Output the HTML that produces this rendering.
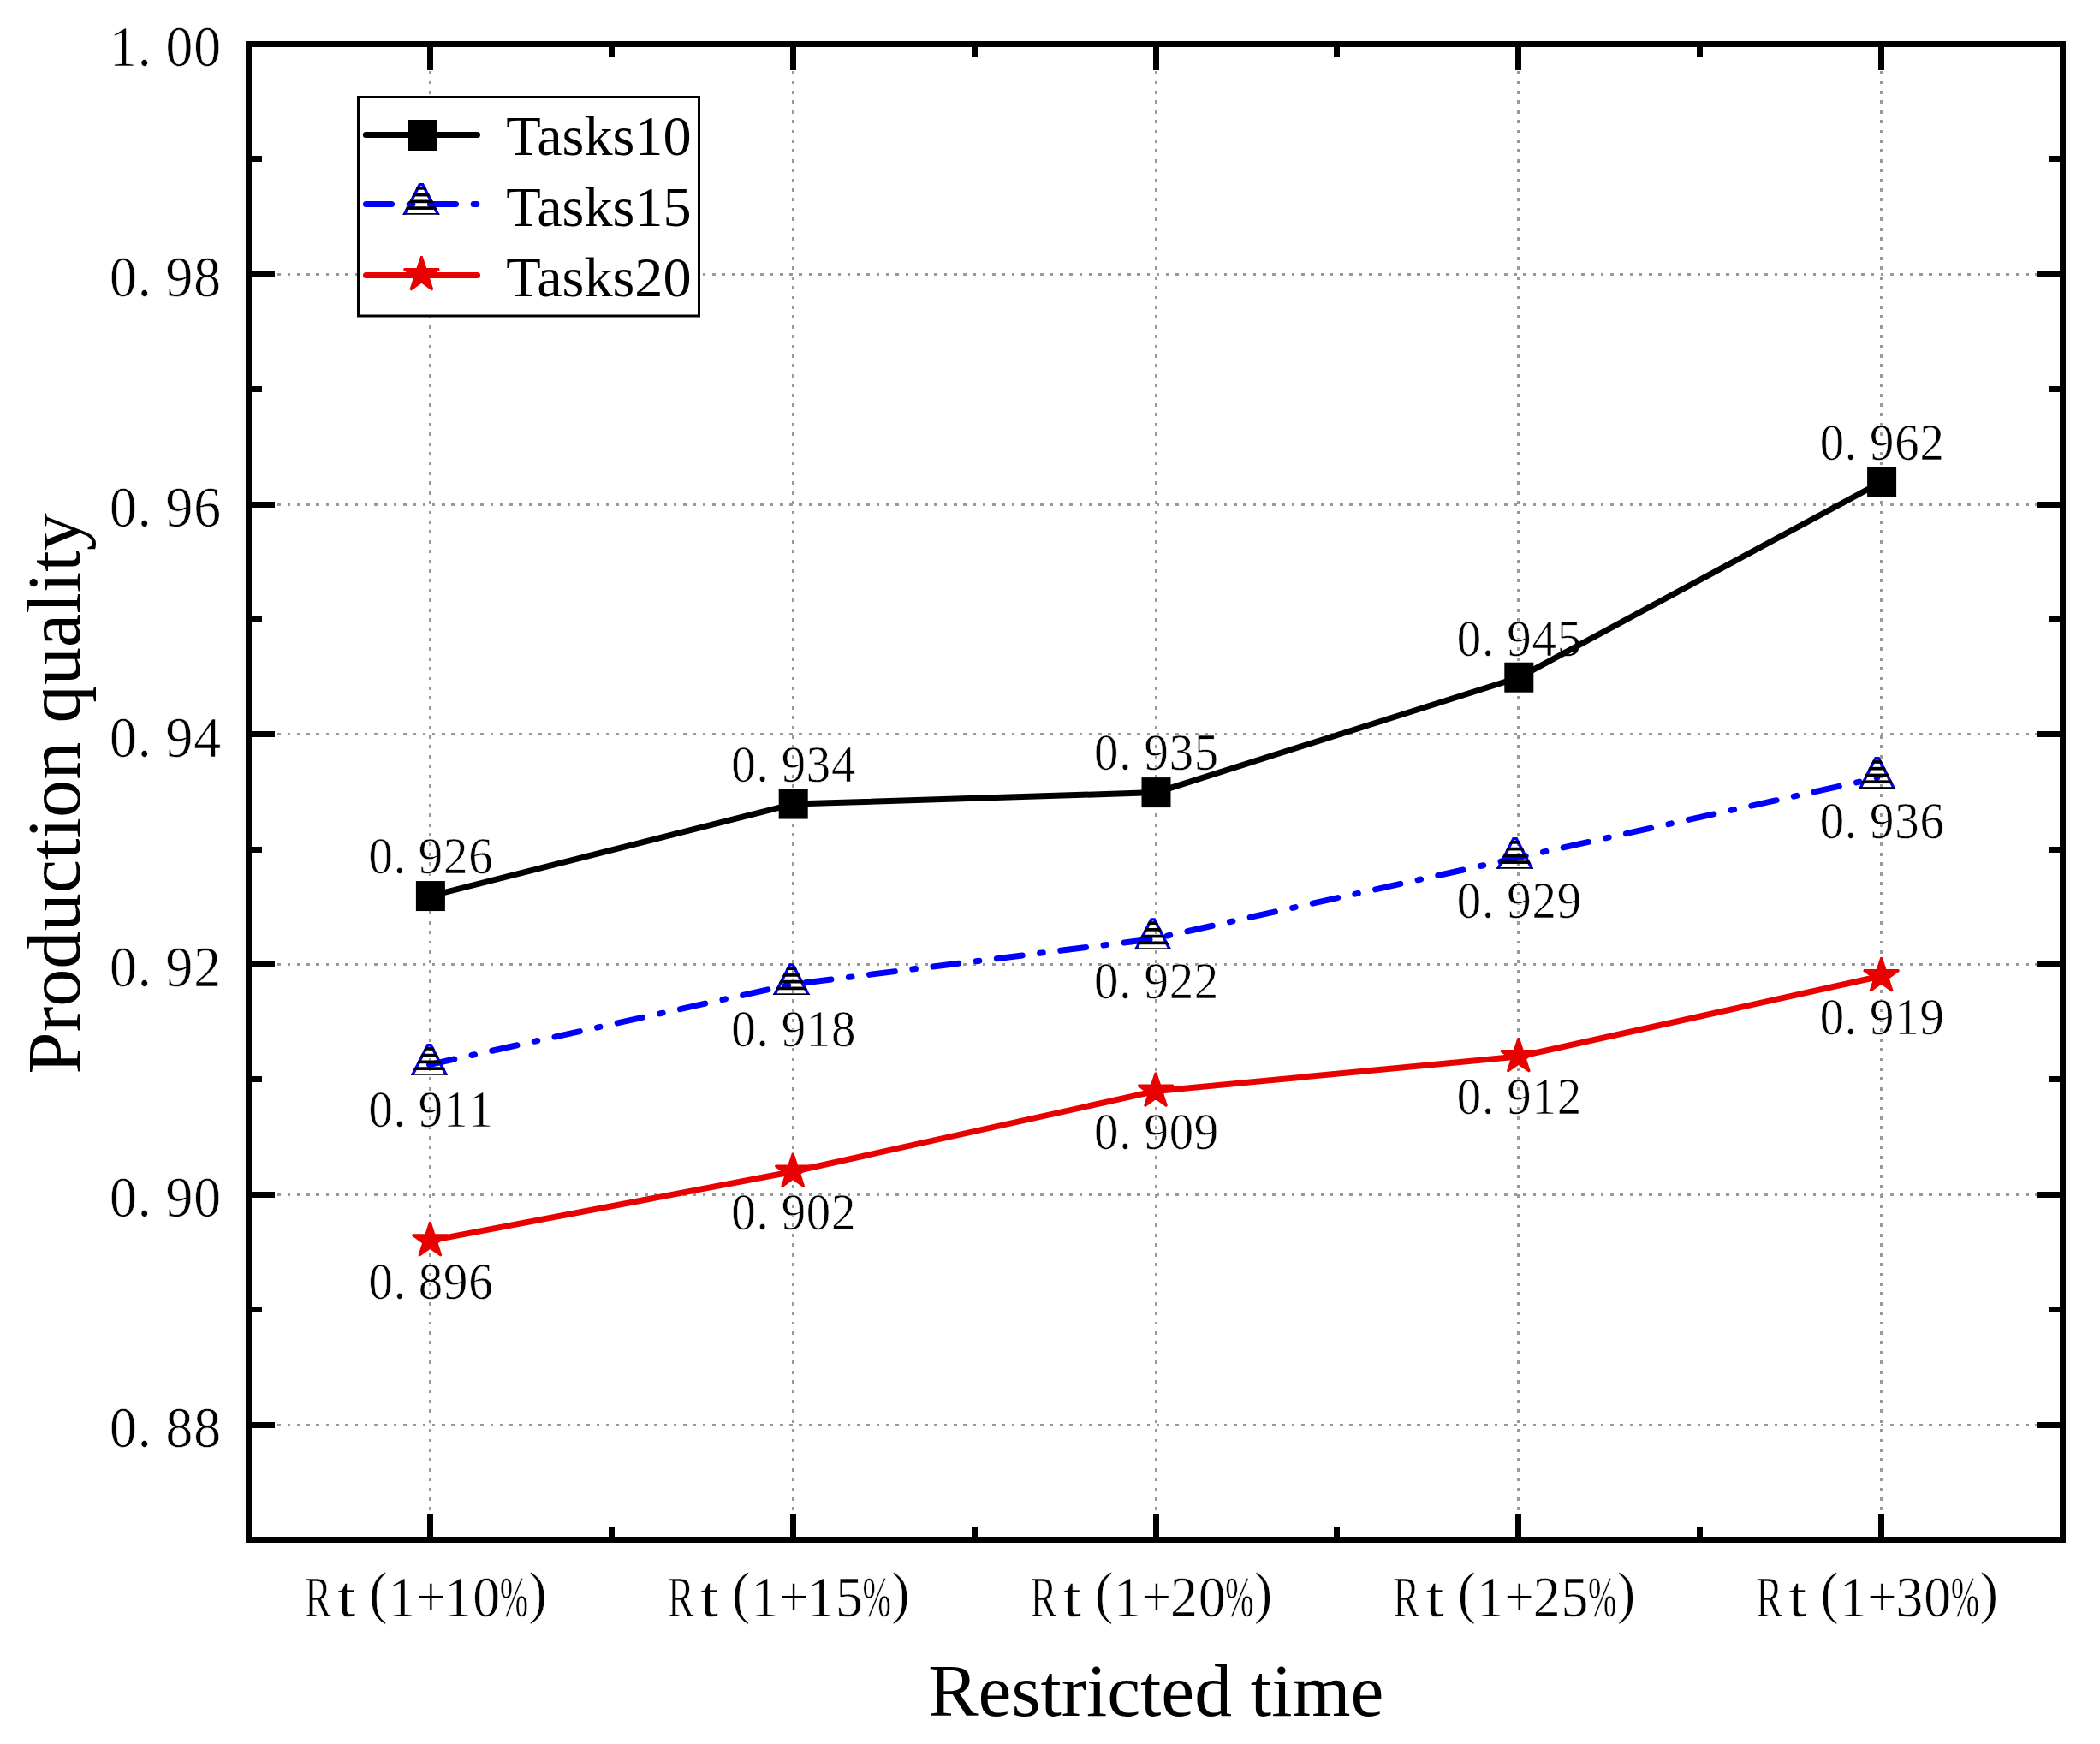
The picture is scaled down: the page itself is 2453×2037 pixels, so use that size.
<!DOCTYPE html>
<html lang="en"><head><meta charset="utf-8"><title>Production quality vs restricted time</title>
<style>html,body{margin:0;padding:0;background:#fff}svg{display:block}text.m{stroke:#fff;stroke-width:0.6px}text{font-family:"Liberation Serif","Noto Serif CJK SC",serif;fill:#000}</style></head><body>
<svg width="2453" height="2037" viewBox="0 0 2453 2037">
<rect width="2453" height="2037" fill="#fff"/>
<defs>
<clipPath id="tc"><polygon points="-2.8,-24.6 2.8,-24.6 21.7,12.3 -21.7,12.3"/></clipPath>
<g id="tri" clip-path="url(#tc)"><polyline points="-21.7,12.3 -2.8,-24.6 2.8,-24.6 21.7,12.3" fill="none" stroke="#0000ff" stroke-width="6.8" stroke-linejoin="miter"/><g fill="#000"><rect x="-23" y="-20.50" width="46" height="3.7"/><rect x="-23" y="-12.75" width="46" height="3.7"/><rect x="-23" y="-5.00" width="46" height="3.7"/><rect x="-23" y="2.75" width="46" height="3.7"/><rect x="-23" y="10.50" width="46" height="3.7"/></g></g>
<polygon id="star" points="0.00,-21.60 4.85,-6.68 20.54,-6.67 7.85,2.55 12.70,17.47 0.00,8.25 -12.70,17.47 -7.85,2.55 -20.54,-6.67 -4.85,-6.68" fill="#e90000" stroke="#e90000" stroke-width="2.6" stroke-linejoin="bevel"/>
<rect id="sq" x="-17" y="-17.5" width="34" height="35" fill="#000"/>
</defs>
<path d="M290.5,1664.12H2409.5M290.5,1395.35H2409.5M290.5,1126.58H2409.5M290.5,857.81H2409.5M290.5,589.04H2409.5M290.5,320.27H2409.5" fill="none" stroke="#999999" stroke-width="3" stroke-dasharray="3.6 7.68" shape-rendering="crispEdges"/>
<path d="M502.40,1798.5V51.5M926.20,1798.5V51.5M1350.00,1798.5V51.5M1773.80,1798.5V51.5M2197.60,1798.5V51.5" fill="none" stroke="#999999" stroke-width="3" stroke-dasharray="3.9 7.51" shape-rendering="crispEdges"/>
<path d="M290.5,1664.12h30.5M2409.5,1664.12h-30.5M290.5,1529.73h15.5M2409.5,1529.73h-15.5M290.5,1395.35h30.5M2409.5,1395.35h-30.5M290.5,1260.96h15.5M2409.5,1260.96h-15.5M290.5,1126.58h30.5M2409.5,1126.58h-30.5M290.5,992.19h15.5M2409.5,992.19h-15.5M290.5,857.81h30.5M2409.5,857.81h-30.5M290.5,723.42h15.5M2409.5,723.42h-15.5M290.5,589.04h30.5M2409.5,589.04h-30.5M290.5,454.65h15.5M2409.5,454.65h-15.5M290.5,320.27h30.5M2409.5,320.27h-30.5M290.5,185.88h15.5M2409.5,185.88h-15.5M502.40,51.5v30.5M502.40,1798.5v-30.5M926.20,51.5v30.5M926.20,1798.5v-30.5M1350.00,51.5v30.5M1350.00,1798.5v-30.5M1773.80,51.5v30.5M1773.80,1798.5v-30.5M2197.60,51.5v30.5M2197.60,1798.5v-30.5M714.30,51.5v15.5M714.30,1798.5v-15.5M1138.10,51.5v15.5M1138.10,1798.5v-15.5M1561.90,51.5v15.5M1561.90,1798.5v-15.5M1985.70,51.5v15.5M1985.70,1798.5v-15.5" fill="none" stroke="#000" stroke-width="7.0" shape-rendering="crispEdges"/>
<rect x="290.5" y="51.5" width="2119.0" height="1747.0" fill="none" stroke="#000" stroke-width="7.0"/>
<text class="m" transform="scale(0.94,1)" x="457.93 488.99 520.05 551.12 582.18" y="1020.50" font-size="60.44">0.926</text>
<text class="m" transform="scale(0.94,1)" x="457.93 488.99 520.05 551.12 582.18" y="1315.75" font-size="60.44">0.911</text>
<text class="m" transform="scale(0.94,1)" x="457.93 488.99 520.05 551.12 582.18" y="1517.00" font-size="60.44">0.896</text>
<text class="m" transform="scale(0.94,1)" x="908.78 939.84 970.90 1001.97 1033.03" y="913.00" font-size="60.44">0.934</text>
<text class="m" transform="scale(0.94,1)" x="908.78 939.84 970.90 1001.97 1033.03" y="1222.00" font-size="60.44">0.918</text>
<text class="m" transform="scale(0.94,1)" x="908.78 939.84 970.90 1001.97 1033.03" y="1436.25" font-size="60.44">0.902</text>
<text class="m" transform="scale(0.94,1)" x="1359.63 1390.69 1421.76 1452.82 1483.88" y="899.50" font-size="60.44">0.935</text>
<text class="m" transform="scale(0.94,1)" x="1359.63 1390.69 1421.76 1452.82 1483.88" y="1166.50" font-size="60.44">0.922</text>
<text class="m" transform="scale(0.94,1)" x="1359.63 1390.69 1421.76 1452.82 1483.88" y="1342.00" font-size="60.44">0.909</text>
<text class="m" transform="scale(0.94,1)" x="1810.48 1841.54 1872.61 1903.67 1934.73" y="766.25" font-size="60.44">0.945</text>
<text class="m" transform="scale(0.94,1)" x="1810.48 1841.54 1872.61 1903.67 1934.73" y="1072.30" font-size="60.44">0.929</text>
<text class="m" transform="scale(0.94,1)" x="1810.48 1841.54 1872.61 1903.67 1934.73" y="1301.25" font-size="60.44">0.912</text>
<text class="m" transform="scale(0.94,1)" x="2261.33 2292.39 2323.46 2354.52 2385.59" y="537.00" font-size="60.44">0.962</text>
<text class="m" transform="scale(0.94,1)" x="2261.33 2292.39 2323.46 2354.52 2385.59" y="978.75" font-size="60.44">0.936</text>
<text class="m" transform="scale(0.94,1)" x="2261.33 2292.39 2323.46 2354.52 2385.59" y="1208.00" font-size="60.44">0.919</text>
<polyline points="502.90,1046.55 926.70,939.04 1350.50,925.60 1774.30,791.22 2198.10,562.76" fill="none" stroke="#000" stroke-width="7" stroke-linejoin="round" stroke-linecap="round"/>
<polyline points="501.50,1243.50 924.50,1149.80 1346.60,1096.75 1769.60,1002.50 2192.60,908.60" fill="none" stroke="#0000ff" stroke-width="7" stroke-linejoin="round" stroke-linecap="round" stroke-dasharray="30 20.7 3.6 20.7"/>
<polyline points="502.40,1449.10 926.20,1368.47 1350.00,1274.40 1773.80,1234.08 2197.60,1140.02" fill="none" stroke="#e90000" stroke-width="7" stroke-linejoin="round" stroke-linecap="round"/>
<use href="#sq" x="502.90" y="1046.55"/>
<use href="#sq" x="926.70" y="939.04"/>
<use href="#sq" x="1350.50" y="925.60"/>
<use href="#sq" x="1774.30" y="791.22"/>
<use href="#sq" x="2198.10" y="562.76"/>
<use href="#tri" x="501.50" y="1243.50"/>
<use href="#tri" x="924.50" y="1149.80"/>
<use href="#tri" x="1346.60" y="1096.75"/>
<use href="#tri" x="1769.60" y="1002.50"/>
<use href="#tri" x="2192.60" y="908.60"/>
<use href="#star" x="502.40" y="1449.10"/>
<use href="#star" x="926.20" y="1368.47"/>
<use href="#star" x="1350.00" y="1274.40"/>
<use href="#star" x="1773.80" y="1234.08"/>
<use href="#star" x="2197.60" y="1140.02"/>
<text class="m" transform="scale(0.94,1)" x="136.22 171.06 205.90 240.74" y="1689.92" font-size="67.79">0.88</text>
<text class="m" transform="scale(0.94,1)" x="136.22 171.06 205.90 240.74" y="1421.15" font-size="67.79">0.90</text>
<text class="m" transform="scale(0.94,1)" x="136.22 171.06 205.90 240.74" y="1152.38" font-size="67.79">0.92</text>
<text class="m" transform="scale(0.94,1)" x="136.22 171.06 205.90 240.74" y="883.61" font-size="67.79">0.94</text>
<text class="m" transform="scale(0.94,1)" x="136.22 171.06 205.90 240.74" y="614.84" font-size="67.79">0.96</text>
<text class="m" transform="scale(0.94,1)" x="136.22 171.06 205.90 240.74" y="346.07" font-size="67.79">0.98</text>
<text class="m" transform="scale(0.94,1)" x="136.22 171.06 205.90 240.74" y="77.30" font-size="67.79">1.00</text>
<text class="m" transform="scale(0.94,1)" font-size="67.79" aria-label="Rt(1+10%)"><tspan x="378.93" y="1888.00" textLength="32.55" lengthAdjust="spacingAndGlyphs">R</tspan><tspan x="419.02" y="1888.00" textLength="22.77" lengthAdjust="spacingAndGlyphs">t</tspan><tspan x="458.86" y="1883.00">(</tspan><tspan x="482.42" y="1888.00">1</tspan><tspan x="517.19" y="1888.00" textLength="36.49" lengthAdjust="spacingAndGlyphs">+</tspan><tspan x="552.10" y="1888.00">1</tspan><tspan x="587.42" y="1888.00">0</tspan><tspan x="620.89" y="1888.00" textLength="35.43" lengthAdjust="spacingAndGlyphs">%</tspan><tspan x="656.94" y="1883.00">)</tspan></text>
<text class="m" transform="scale(0.94,1)" font-size="67.79" aria-label="Rt(1+15%)"><tspan x="829.78" y="1888.00" textLength="32.55" lengthAdjust="spacingAndGlyphs">R</tspan><tspan x="869.87" y="1888.00" textLength="22.77" lengthAdjust="spacingAndGlyphs">t</tspan><tspan x="909.71" y="1883.00">(</tspan><tspan x="933.27" y="1888.00">1</tspan><tspan x="968.04" y="1888.00" textLength="36.49" lengthAdjust="spacingAndGlyphs">+</tspan><tspan x="1002.95" y="1888.00">1</tspan><tspan x="1038.27" y="1888.00">5</tspan><tspan x="1071.74" y="1888.00" textLength="35.43" lengthAdjust="spacingAndGlyphs">%</tspan><tspan x="1107.79" y="1883.00">)</tspan></text>
<text class="m" transform="scale(0.94,1)" font-size="67.79" aria-label="Rt(1+20%)"><tspan x="1280.63" y="1888.00" textLength="32.55" lengthAdjust="spacingAndGlyphs">R</tspan><tspan x="1320.72" y="1888.00" textLength="22.77" lengthAdjust="spacingAndGlyphs">t</tspan><tspan x="1360.56" y="1883.00">(</tspan><tspan x="1384.12" y="1888.00">1</tspan><tspan x="1418.89" y="1888.00" textLength="36.49" lengthAdjust="spacingAndGlyphs">+</tspan><tspan x="1454.28" y="1888.00">2</tspan><tspan x="1489.12" y="1888.00">0</tspan><tspan x="1522.59" y="1888.00" textLength="35.43" lengthAdjust="spacingAndGlyphs">%</tspan><tspan x="1558.64" y="1883.00">)</tspan></text>
<text class="m" transform="scale(0.94,1)" font-size="67.79" aria-label="Rt(1+25%)"><tspan x="1731.48" y="1888.00" textLength="32.55" lengthAdjust="spacingAndGlyphs">R</tspan><tspan x="1771.57" y="1888.00" textLength="22.77" lengthAdjust="spacingAndGlyphs">t</tspan><tspan x="1811.41" y="1883.00">(</tspan><tspan x="1834.97" y="1888.00">1</tspan><tspan x="1869.74" y="1888.00" textLength="36.49" lengthAdjust="spacingAndGlyphs">+</tspan><tspan x="1905.13" y="1888.00">2</tspan><tspan x="1939.97" y="1888.00">5</tspan><tspan x="1973.44" y="1888.00" textLength="35.43" lengthAdjust="spacingAndGlyphs">%</tspan><tspan x="2009.49" y="1883.00">)</tspan></text>
<text class="m" transform="scale(0.94,1)" font-size="67.79" aria-label="Rt(1+30%)"><tspan x="2182.34" y="1888.00" textLength="32.55" lengthAdjust="spacingAndGlyphs">R</tspan><tspan x="2222.42" y="1888.00" textLength="22.77" lengthAdjust="spacingAndGlyphs">t</tspan><tspan x="2262.26" y="1883.00">(</tspan><tspan x="2285.82" y="1888.00">1</tspan><tspan x="2320.59" y="1888.00" textLength="36.49" lengthAdjust="spacingAndGlyphs">+</tspan><tspan x="2355.98" y="1888.00">3</tspan><tspan x="2390.82" y="1888.00">0</tspan><tspan x="2424.29" y="1888.00" textLength="35.43" lengthAdjust="spacingAndGlyphs">%</tspan><tspan x="2460.35" y="1883.00">)</tspan></text>
<text x="1350.3" y="2004" font-size="87.5" text-anchor="middle">Restricted time</text>
<text transform="translate(93.1,926.7) rotate(-90)" font-size="88.4" text-anchor="middle">Production quality</text>
<rect x="418.5" y="113.5" width="398" height="255.5" fill="#fff" stroke="#000" stroke-width="3"/>
<path d="M427.35,157.4H557.5" stroke="#000" stroke-width="7" stroke-linecap="round"/>
<path d="M427.5,238.45H560" stroke="#0000ff" stroke-width="7" stroke-linecap="round" stroke-dasharray="30 20.7 3.6 20.7" fill="none"/>
<path d="M427.5,321.5H557.6" stroke="#e90000" stroke-width="7" stroke-linecap="round"/>
<rect x="476" y="140" width="35" height="36" fill="#000"/>
<use href="#tri" x="492" y="238.5"/>
<use href="#star" x="492.4" y="320.9"/>
<text x="591.3" y="181" font-size="66.3">Tasks10</text>
<text x="591.3" y="263.75" font-size="66.3">Tasks15</text>
<text x="591.3" y="345.5" font-size="66.3">Tasks20</text>
</svg></body></html>
